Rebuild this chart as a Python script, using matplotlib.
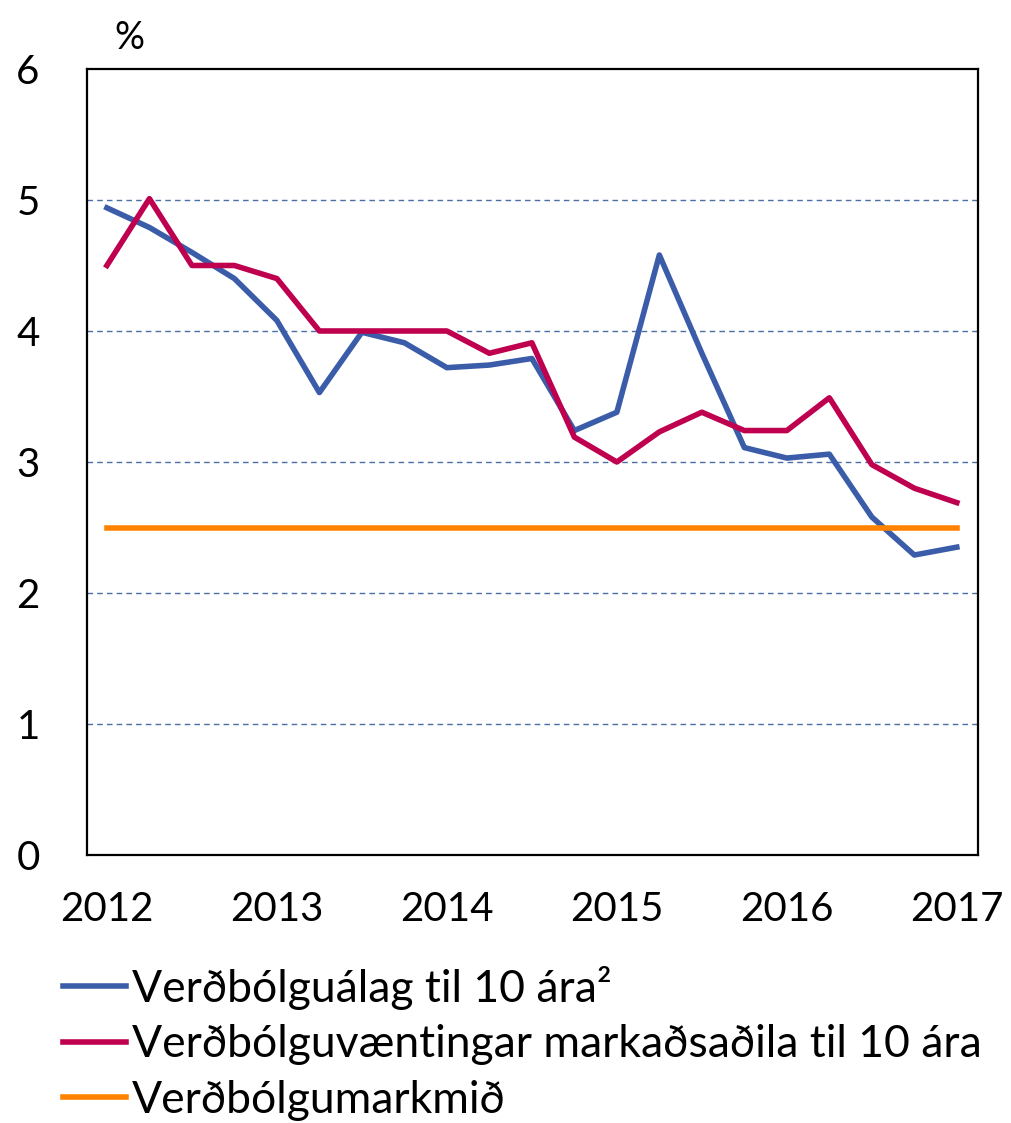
import matplotlib
matplotlib.use('agg')
import matplotlib.pyplot as plt

# ársfjórðungar 2012 - 2017
quarters = list(range(21))
tick_pos = [0, 4, 8, 12, 16, 20]
tick_labels = ['2012', '2013', '2014', '2015', '2016', '2017']

breakeven = [4.94, 4.79, 4.60, 4.40, 4.08, 3.53, 3.99, 3.91, 3.72, 3.74, 3.79,
             3.24, 3.38, 4.58, 3.83, 3.11, 3.03, 3.06, 2.58, 2.29, 2.35]
expectations = [4.50, 5.01, 4.50, 4.50, 4.40, 4.00, 4.00, 4.00, 4.00, 3.83, 3.91,
                3.19, 3.00, 3.23, 3.38, 3.24, 3.24, 3.49, 2.98, 2.80, 2.69]
target = [2.5] * 21

labels = ['Verðbólguálag til 10 ára²',
          'Verðbólguvæntingar markaðsaðila til 10 ára',
          'Verðbólgumarkmið']

plt.rcParams['font.family'] = ['Lato', 'DejaVu Sans']

fig = plt.figure(figsize=(10.11, 11.23), dpi=100)
ax = fig.add_axes([0.086, 0.2386, 0.881, 0.700])

ax.plot(quarters, breakeven, color='#3a5ca9', lw=4.0, label=labels[0])
ax.plot(quarters, expectations, color='#be004f', lw=4.0, label=labels[1])
ax.plot(quarters, target, color='#ff8200', lw=4.0, label=labels[2])

ax.set_ylim(0, 6)
ax.set_xlim(-0.47, 20.49)
ax.set_yticks(range(7))
ax.set_xticks(tick_pos)
ax.set_xticklabels(tick_labels)
ax.tick_params(axis='both', length=0, labelsize=29)
ax.tick_params(axis='y', pad=34)
ax.tick_params(axis='x', pad=26)

for y in range(1, 6):
    ax.axhline(y, color='#4a6fa5', lw=1.0, ls=(0, (4, 3)), zorder=0)

for s in ax.spines.values():
    s.set_linewidth(1.6)
    s.set_color('black')

fig.text(0.128, 0.966, '%', fontsize=27, ha='center', va='center')

fig.legend(loc='upper left', bbox_to_anchor=(0.04, 0.16), frameon=False,
           fontsize=32, handlelength=1.43, handletextpad=0.12,
           labelspacing=0.33, borderpad=0)

fig.savefig('out.png', dpi=100)
plt.close()
